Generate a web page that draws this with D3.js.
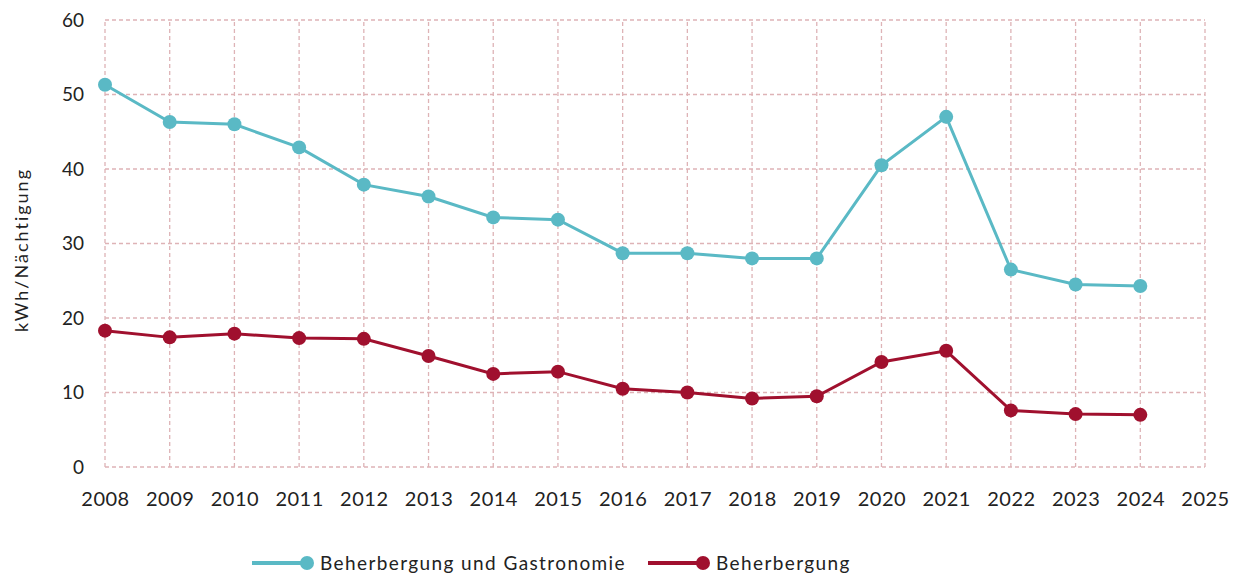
<!DOCTYPE html>
<html><head><meta charset="utf-8">
<script src="https://cdn.jsdelivr.net/npm/d3@7"></script>
<style>
body{margin:0;background:#fff;}
svg text{font-family:Lato, "Open Sans", sans-serif;fill:#222;}
</style></head>
<body>
<svg id="c" width="1239" height="577"></svg>
<script>
const years = [2008,2009,2010,2011,2012,2013,2014,2015,2016,2017,2018,2019,2020,2021,2022,2023,2024];
const xTicks = [2008,2009,2010,2011,2012,2013,2014,2015,2016,2017,2018,2019,2020,2021,2022,2023,2024,2025];
const yTicks = [0,10,20,30,40,50,60];
const gastro = [51.3,46.3,46.0,42.9,37.9,36.3,33.5,33.2,28.7,28.7,28.0,28.0,40.5,47.0,26.5,24.5,24.3];
const beherb = [18.3,17.4,17.9,17.3,17.2,14.9,12.5,12.8,10.5,10.0,9.2,9.5,14.1,15.6,7.6,7.1,7.0];
const seriesNames = ["Beherbergung und Gastronomie","Beherbergung"];
const colors = ["#5ab9c5","#a0102e"];
const yTitle = "kWh/Nächtigung";

const svg = d3.select("#c");
const x = d3.scaleLinear().domain([2008,2025]).range([105,1205]);
const y = d3.scaleLinear().domain([0,60]).range([467,20]);

const grid = svg.append("g");
grid.selectAll("line.h").data(yTicks).join("line")
  .attr("x1",x(2008)).attr("x2",x(2025)).attr("y1",d=>y(d)).attr("y2",d=>y(d))
  .attr("stroke","#deb3b6").attr("stroke-width",1.3).attr("stroke-dasharray","4,3");
grid.selectAll("line.v").data(xTicks).join("line")
  .attr("x1",d=>x(d)).attr("x2",d=>x(d)).attr("y1",y(0)).attr("y2",y(60))
  .attr("stroke","#deb3b6").attr("stroke-width",1.3).attr("stroke-dasharray","4,3");

const yAxis = svg.append("g").attr("transform","translate(105,0)")
  .call(d3.axisLeft(y).tickValues(yTicks).tickSize(0).tickPadding(21).tickFormat(d3.format("d")));
yAxis.select(".domain").remove();
yAxis.selectAll("text").attr("font-size",19).style("font-family","Lato, sans-serif").attr("fill","#222");

const xAxis = svg.append("g").attr("transform","translate(0,"+y(0)+")")
  .call(d3.axisBottom(x).tickValues(xTicks).tickSize(0).tickPadding(25).tickFormat(d3.format("d")));
xAxis.select(".domain").remove();
xAxis.selectAll("text").attr("font-size",20).style("letter-spacing","0.5px")
  .style("font-family","Lato, sans-serif").attr("fill","#222");

svg.append("text").attr("transform","translate(28,250) rotate(-90)")
  .attr("text-anchor","middle").attr("font-size",18).style("letter-spacing","2px").text(yTitle);

const line = d3.line().x((d,i)=>x(years[i])).y(d=>y(d));
[gastro,beherb].forEach((s,k)=>{
  svg.append("path").datum(s).attr("d",line).attr("fill","none")
    .attr("stroke",colors[k]).attr("stroke-width",3);
  svg.append("g").selectAll("circle").data(s).join("circle")
    .attr("cx",(d,i)=>x(years[i])).attr("cy",d=>y(d)).attr("r",7).attr("fill",colors[k]);
});

const legX = [252,648];
const leg = svg.append("g");
seriesNames.forEach((n,k)=>{
  const g = leg.append("g").attr("transform","translate("+legX[k]+",563)");
  g.append("line").attr("x1",0).attr("x2",52).attr("y1",0).attr("y2",0)
    .attr("stroke",colors[k]).attr("stroke-width",4);
  g.append("circle").attr("cx",55).attr("cy",0).attr("r",7).attr("fill",colors[k]);
  g.append("text").attr("x",68).attr("y",7).attr("font-size",19).style("letter-spacing","1.4px").text(n);
});
</script>
</body></html>
